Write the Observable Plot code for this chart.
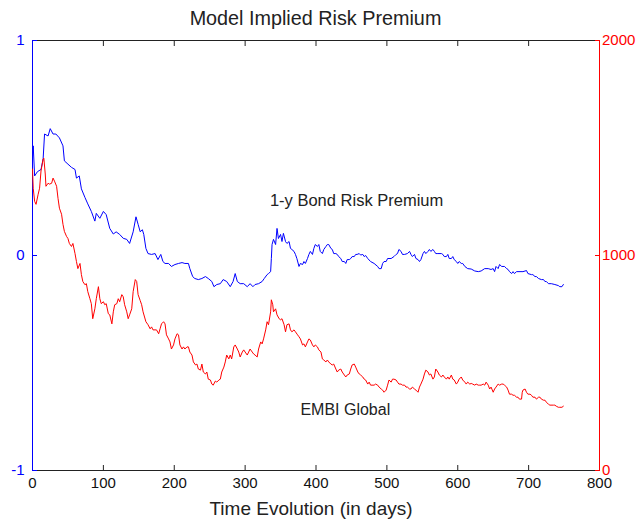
<!DOCTYPE html>
<html><head><meta charset="utf-8">
<script src="https://cdn.jsdelivr.net/npm/d3@7"></script>
<script src="https://cdn.jsdelivr.net/npm/@observablehq/plot@0.6"></script>
<style>
body{margin:0;background:#fff;font-family:"Liberation Sans",Arial,sans-serif;}
#title{height:30px;width:638px;box-sizing:border-box;padding-left:32px;padding-right:39px;text-align:center;font-size:19.8px;line-height:36px;color:#222;white-space:nowrap;}
</style></head><body>
<div id="title">Model Implied Risk Premium</div>
<div id="chart"></div>
<script>
const xTicks = [0,100,200,300,400,500,600,700,800];
const leftTicks = [-1,0,1];
const rightTicks = [0,1000,2000];
const seriesLabels = ["1-y Bond Risk Premium","EMBI Global"];
const xLabel = "Time Evolution (in days)";

const blueDays = [0,1,3,7,12,15,17,22,25,29,33,38,43,45,50,55,60,62,66,69,74,78,83,88,90,95,100,104,109,114,118,123,128,133,137,142,146,149,152,155,157,160,163,168,173,177,181,184,187,192,196,201,206,211,215,220,222,226,229,234,239,244,248,253,256,260,265,269,274,279,283,286,289,293,298,303,307,311,314,319,324,327,331,333,336,337,338,340,343,345,347,350,352,354,357,359,362,364,366,369,371,373,376,378,381,383,385,388,390,392,395,397,399,402,404,406,409,411,414,416,418,421,423,425,428,430,432,435,437,440,442,444,447,449,451,454,456,458,461,463,466,468,470,473,477,482,487,489,492,494,496,499,501,506,510,513,515,517,520,522,525,529,532,534,536,539,541,544,546,548,551,553,555,558,560,562,565,567,569,572,577,579,581,584,586,588,591,593,595,598,600,602,605,607,610,614,619,624,629,633,638,643,647,650,652,654,657,659,662,666,669,671,673,676,678,680,683,692,697,699,704,706,709,711,714,718,721,723,725,728,732,737,742,744,747,749];
const blueValues = [0.46,0.51,0.37,0.39,0.40,0.45,0.565,0.556,0.59,0.565,0.565,0.547,0.51,0.44,0.425,0.41,0.40,0.36,0.37,0.31,0.27,0.24,0.205,0.16,0.196,0.173,0.205,0.19,0.126,0.10,0.11,0.098,0.08,0.075,0.056,0.11,0.18,0.145,0.11,0.12,0.098,0.033,0.009,0.005,0.009,-0.019,0.005,-0.028,-0.037,-0.037,-0.051,-0.042,-0.037,-0.033,-0.037,-0.037,-0.061,-0.098,-0.107,-0.112,-0.107,-0.098,-0.107,-0.121,-0.145,-0.135,-0.131,-0.112,-0.121,-0.145,-0.121,-0.084,-0.121,-0.131,-0.131,-0.145,-0.131,-0.145,-0.135,-0.131,-0.121,-0.107,-0.089,-0.084,-0.075,-0.014,0.051,0.075,0.051,0.126,0.079,0.098,0.065,0.103,0.065,0.056,0.065,0.033,0.028,0.019,0.005,-0.014,-0.051,-0.037,-0.042,-0.028,-0.037,-0.014,0.005,0.019,0.005,0.033,0.051,0.042,0.051,0.019,0.009,0.028,0.042,0.051,0.051,0.033,0.028,0.009,0.009,0.005,-0.005,-0.014,-0.028,-0.028,-0.037,-0.019,-0.019,-0.014,-0.005,-0.005,0.005,0.005,0.009,0.002,0.005,-0.005,0.0,-0.014,-0.028,-0.037,-0.051,-0.061,-0.061,-0.037,-0.028,-0.028,-0.014,-0.014,-0.005,0.005,0.009,0.028,0.019,0.005,0.005,0.009,0.019,0.005,-0.005,0.005,-0.014,-0.019,-0.028,-0.019,0.009,0.019,0.009,0.019,0.028,0.019,0.028,0.019,0.009,0.009,0.009,0.005,-0.005,-0.005,0.005,-0.014,-0.014,-0.005,-0.019,-0.028,-0.037,-0.028,-0.037,-0.037,-0.051,-0.061,-0.063,-0.072,-0.075,-0.072,-0.061,-0.061,-0.065,-0.061,-0.075,-0.051,-0.061,-0.042,-0.051,-0.051,-0.061,-0.065,-0.075,-0.084,-0.075,-0.084,-0.075,-0.075,-0.07,-0.084,-0.089,-0.089,-0.098,-0.098,-0.107,-0.112,-0.112,-0.121,-0.121,-0.131,-0.131,-0.135,-0.14,-0.145,-0.145,-0.135];

const redDays = [0,1,3,5,8,10,12,15,16,18,19,22,24,27,29,31,34,36,38,41,43,45,48,50,52,55,57,60,62,64,67,69,71,74,76,78,81,83,85,88,90,93,95,97,100,102,104,107,109,112,114,116,119,121,123,126,128,130,133,135,137,140,142,145,147,149,152,154,156,160,163,166,168,170,175,178,180,182,185,187,189,192,194,196,199,201,204,206,208,211,213,215,218,220,222,225,227,230,232,234,237,239,241,244,246,248,251,253,255,258,260,263,265,267,270,272,274,277,279,281,284,286,289,291,293,296,298,300,303,305,307,310,312,314,317,319,322,324,326,329,331,333,336,337,339,340,343,345,348,350,352,355,357,359,362,364,366,369,371,374,376,378,381,383,385,388,390,392,395,397,399,402,404,407,409,411,414,416,418,421,423,425,428,430,432,435,437,440,442,444,447,449,451,454,456,459,461,463,466,468,470,473,475,477,482,484,487,489,492,494,496,499,501,503,506,508,510,513,515,517,520,522,525,527,529,532,534,536,539,541,544,546,548,551,553,555,558,560,562,565,567,569,572,574,577,579,581,584,586,588,591,593,595,598,600,602,605,607,610,612,614,617,619,621,624,626,629,631,633,636,638,640,643,645,647,650,652,654,657,659,662,664,666,669,671,673,676,678,680,683,685,687,690,691,692,695,697,699,702,704,706,709,711,714,716,718,721,723,725,728,730,735,737,739,742,744,747,749];
const redValues = [1402,1313,1252,1238,1285,1313,1393,1449,1453,1379,1322,1336,1332,1336,1360,1346,1322,1266,1220,1192,1145,1112,1089,1079,1056,1042,1056,1009,972,939,963,911,879,864,869,832,799,776,706,752,799,855,799,776,785,771,776,729,724,682,738,771,776,799,785,818,808,771,738,706,724,752,832,888,879,818,790,771,738,692,678,659,668,654,654,636,659,682,692,682,631,612,598,565,584,612,636,631,584,565,575,565,575,575,551,537,505,491,495,472,467,495,458,449,458,425,421,402,397,416,411,421,425,458,481,505,537,519,537,519,575,584,565,551,528,551,561,551,537,551,565,551,542,537,528,565,598,589,612,654,692,678,738,794,771,738,752,724,706,701,706,678,645,678,682,654,645,654,645,631,622,612,584,589,575,598,612,607,584,575,584,575,561,551,519,514,505,514,505,495,491,495,472,458,467,472,458,444,435,444,449,472,491,495,481,458,449,444,435,425,421,402,411,397,397,402,397,388,379,374,364,374,397,421,411,425,425,421,411,402,402,397,397,388,388,379,379,388,379,374,364,388,402,425,449,467,458,444,449,425,435,472,458,444,435,444,435,425,435,425,444,425,421,402,411,425,435,421,411,402,411,402,405,402,397,402,397,397,397,402,397,411,397,379,388,364,379,388,402,397,402,402,397,388,374,355,355,350,350,341,341,332,332,364,374,379,364,355,355,350,341,341,332,341,341,332,327,327,318,308,304,304,304,299,294,294,294,299];

const toLeft = d3.scaleLinear().domain([rightTicks[0], rightTicks[2]]).range([leftTicks[0], leftTicks[2]]);
const blue = blueDays.map((d, i) => ({day: d, value: blueValues[i]}));
const red = redDays.map((d, i) => ({day: d, value: redValues[i]}));

const BLUE = "#0000ff", RED = "#ff0000", INK = "#222";

const chart = Plot.plot({
  width: 638,
  height: 495,
  marginTop: 10,
  marginBottom: 55,
  marginLeft: 32,
  marginRight: 39,
  x: {domain: [0, 800]},
  y: {domain: [-1, 1]},
  style: {fontFamily: '"Liberation Sans",Arial,sans-serif', fontSize: "15px", background: "white", overflow: "visible"},
  marks: [
    Plot.ruleY([1], {stroke: INK, strokeWidth: 1}),
    Plot.ruleY([-1], {stroke: INK, strokeWidth: 1}),
    Plot.axisX({anchor: "top", ticks: xTicks, tickSize: -5, tickFormat: () => "", stroke: INK, label: null}),
    Plot.axisX({anchor: "bottom", ticks: xTicks, tickSize: -5, tickPadding: 12, stroke: INK, fill: "#111", label: null}),
    Plot.axisY({anchor: "left", ticks: leftTicks, tickSize: -5, tickPadding: 13, stroke: BLUE, fill: BLUE, tickFormat: d => String(d), label: null}),
    Plot.axisY({anchor: "right", ticks: rightTicks.map(toLeft), tickSize: -5, tickPadding: 7.5, stroke: RED, fill: RED, tickFormat: d => String(Math.round(toLeft.invert(d))), label: null}),
    Plot.ruleX([0], {stroke: BLUE, strokeWidth: 1}),
    Plot.ruleX([800], {stroke: RED, strokeWidth: 1}),
    Plot.line(blue, {x: "day", y: "value", stroke: BLUE, strokeWidth: 1}),
    Plot.line(red, {x: "day", y: d => toLeft(d.value), stroke: RED, strokeWidth: 1}),
    Plot.text([seriesLabels[0]], {x: 335, y: 0.255, text: d => d, textAnchor: "start", fill: INK, fontSize: 16.5}),
    Plot.text([seriesLabels[1]], {x: 378, y: toLeft(281), text: d => d, textAnchor: "start", fill: INK, fontSize: 16}),
    Plot.text([xLabel], {frameAnchor: "bottom", text: d => d, dy: 38, dx: -5, fill: INK, fontSize: 19, lineAnchor: "middle"})
  ]
});
document.getElementById("chart").appendChild(chart);
</script></body></html>
